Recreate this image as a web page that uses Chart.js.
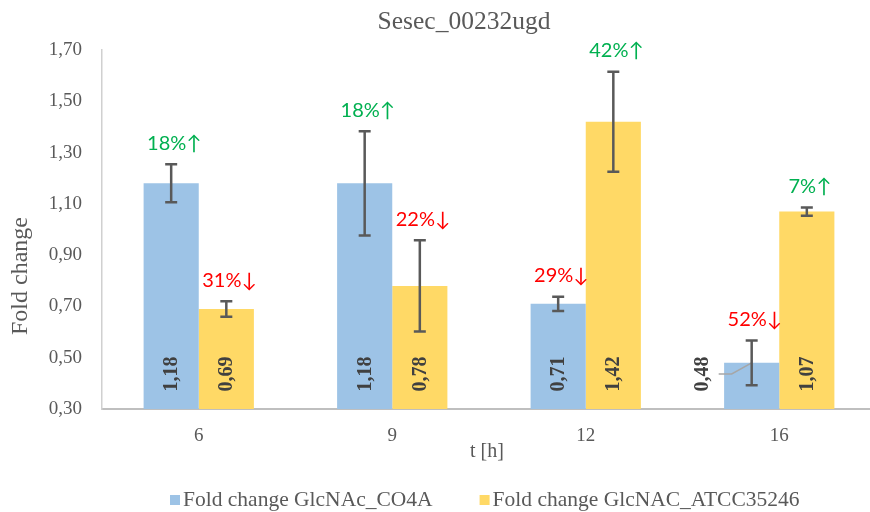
<!DOCTYPE html>
<html>
<head>
<meta charset="utf-8">
<script src="https://cdn.jsdelivr.net/npm/chart.js@4.4.1/dist/chart.umd.min.js"></script>
<style>
  html, body { margin: 0; padding: 0; background: #fff; overflow: hidden; }
  #wrap { width: 950px; height: 512px; }
</style>
</head>
<body>
<div id="wrap"><canvas id="c"></canvas></div>
<script>
const labels = ['6', '9', '12', '16'];
const co4a = [1.18, 1.18, 0.71, 0.48];
const atcc = [0.69, 0.78, 1.42, 1.07];
const co4aErr = [0.074, 0.203, 0.028, 0.087];
const atccErr = [0.03, 0.178, 0.195, 0.016];
const co4aPct = ['18%↑', '18%↑', '29%↓', '52%↓'];
const atccPct = ['31%↓', '22%↓', '42%↑', '7%↑'];

const serif = '"Liberation Serif", "Times New Roman", serif';
const grey = '#595959';
const comma = (v) => v.toFixed(2).replace('.', ',');

const extras = {
  id: 'extras',
  afterDatasetsDraw(chart) {
    const { ctx, chartArea, scales: { y } } = chart;
    const vals = [co4a, atcc];
    const errs = [co4aErr, atccErr];
    const pcts = [co4aPct, atccPct];
    const base = chartArea.bottom;
    ctx.save();
    ctx.textAlign = 'center';
    ctx.textBaseline = 'middle';

    chart.data.datasets.forEach((ds, di) => {
      chart.getDatasetMeta(di).data.forEach((bar, i) => {
        const v = vals[di][i];
        const e = errs[di][i];
        const top = y.getPixelForValue(v + e);
        const bot = y.getPixelForValue(v - e);

        // value label, rotated, near the base
        let lx = bar.x;
        const ly = base - 35;
        if (base - bar.y < 50) {
          lx = bar.x - 50;
          ctx.strokeStyle = '#a6a6a6';
          ctx.lineWidth = 1.5;
          ctx.beginPath();
          ctx.moveTo(lx + 17, ly);
          ctx.lineTo(lx + 30, ly);
          ctx.lineTo(bar.x, bar.y);
          ctx.stroke();
        }
        ctx.save();
        ctx.translate(lx, ly);
        ctx.rotate(-Math.PI / 2);
        ctx.font = 'bold 20px ' + serif;
        ctx.fillStyle = '#404040';
        ctx.fillText(comma(v), 0, 1);
        ctx.restore();

        // error bar
        ctx.strokeStyle = grey;
        ctx.lineWidth = 2.5;
        ctx.beginPath();
        ctx.moveTo(bar.x, top); ctx.lineTo(bar.x, bot);
        ctx.moveTo(bar.x - 6, top); ctx.lineTo(bar.x + 6, top);
        ctx.moveTo(bar.x - 6, bot); ctx.lineTo(bar.x + 6, bot);
        ctx.stroke();

        // percent change
        const p = pcts[di][i];
        ctx.fillStyle = p.includes('↑') ? '#00B050' : '#FF0000';
        ctx.font = '20px Lato, "Open Sans", sans-serif';
        ctx.fillText(p, bar.x + 3, top - 21);
      });
    });

    // titles
    ctx.fillStyle = grey;
    ctx.font = '25.5px ' + serif;
    ctx.textBaseline = 'alphabetic';
    ctx.fillText('Sesec_00232ugd', 464, 29);
    ctx.textBaseline = 'middle';
    ctx.font = '20px ' + serif;
    ctx.fillText('t [h]', 487, 452);
    ctx.save();
    ctx.translate(21, 276);
    ctx.rotate(-Math.PI / 2);
    ctx.font = '24px ' + serif;
    ctx.fillText('Fold change', 0, 0);
    ctx.restore();

    // legend
    ctx.font = '21.5px ' + serif;
    ctx.textAlign = 'left';
    ctx.textBaseline = 'alphabetic';
    let lx = 170;
    chart.data.datasets.forEach((ds) => {
      ctx.fillStyle = ds.backgroundColor;
      ctx.fillRect(lx, 495, 10, 10);
      ctx.fillStyle = grey;
      ctx.fillText(ds.label, lx + 13, 506);
      lx += 13 + ctx.measureText(ds.label).width + 47;
    });
    ctx.restore();
  },
};

new Chart(document.getElementById('c'), {
  type: 'bar',
  data: {
    labels,
    datasets: [
      { label: 'Fold change GlcNAc_CO4A', data: co4a, backgroundColor: '#9DC3E6' },
      { label: 'Fold change GlcNAC_ATCC35246', data: atcc, backgroundColor: '#FFD966' },
    ],
  },
  options: {
    responsive: true,
    maintainAspectRatio: false,
    animation: false,
    layout: { padding: { top: 50, right: 74, bottom: 0, left: 0 } },
    datasets: { bar: { categoryPercentage: 0.57, barPercentage: 1 } },
    plugins: {
      title: { display: false },
      tooltip: { enabled: false },
      legend: { display: false },
    },
    scales: {
      x: {
        grid: { display: false, drawTicks: false },
        border: { color: '#bfbfbf', width: 2 },
        ticks: { color: grey, padding: 16, font: { family: serif, size: 19 } },
        afterFit: (s) => { s.height = 103; },
      },
      y: {
        min: 0.3, max: 1.7,
        grid: { display: false, drawTicks: false },
        border: { color: '#d0d0d0', width: 1.5 },
        ticks: { stepSize: 0.2, color: grey, padding: 20, font: { family: serif, size: 19 }, callback: (v) => comma(v) },
        afterFit: (s) => { s.width = 102; },
      },
    },
  },
  plugins: [extras],
});
</script>
</body>
</html>
